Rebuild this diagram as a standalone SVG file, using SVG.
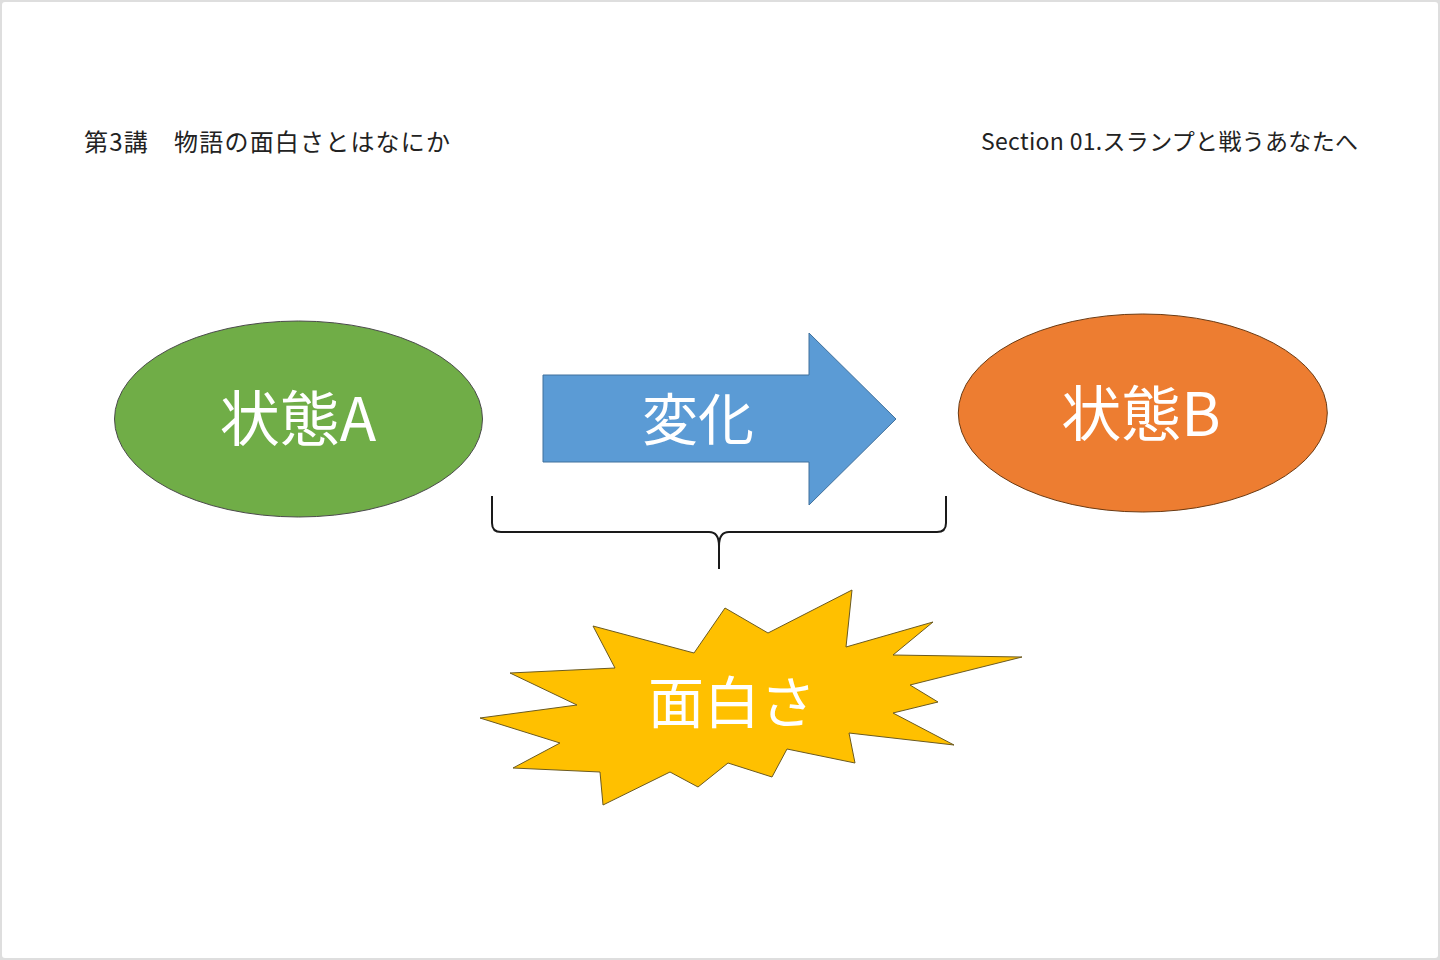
<svg xmlns="http://www.w3.org/2000/svg" width="1440" height="960" viewBox="0 0 1440 960">
  <style>
    .hdr { font-family: "Noto Sans CJK JP", "Noto Sans", sans-serif; font-size: 23px; fill: #222222; }
    .lbl { font-family: "Noto Sans CJK JP", "Noto Sans", sans-serif; font-size: 56px; fill: #ffffff; text-anchor: middle; }
    .big { font-size: 60px; }
    .shape { stroke-width: 1; }
  </style>
  <rect x="0" y="0" width="1440" height="960" fill="#dedede"/>
  <rect x="2" y="2" width="1436" height="956" rx="3" fill="#ffffff"/>

  <g id="header-left">
    <text class="hdr" x="84" y="151" style="font-size:24px" textLength="366" lengthAdjust="spacing">第3講　物語の面白さとはなにか</text>
  </g>
  <g id="header-right">
    <text class="hdr" x="981" y="150" textLength="377" lengthAdjust="spacing">Section 01.スランプと戦うあなたへ</text>
  </g>

  <g id="stateA">
    <ellipse class="shape" cx="298.5" cy="419" rx="184" ry="98" fill="#70ad47" stroke="#4a4a4a"/>
    <text class="lbl big" x="298" y="441">状態A</text>
  </g>

  <g id="change">
    <polygon class="shape" points="543,375 809,375 809,333 896,419 809,505 809,462 543,462" fill="#5b9bd5" stroke="#41719c"/>
    <text class="lbl" x="698" y="440">変化</text>
  </g>

  <g id="stateB">
    <ellipse class="shape" cx="1142.8" cy="413" rx="184.5" ry="99" fill="#ed7d31" stroke="#6b3a12"/>
    <text class="lbl big" x="1141" y="436">状態B</text>
  </g>

  <g id="connectors">
    <path d="M492,496 V523 Q492,532 501,532 H709 Q719,532 719,546 V569 M719,546 Q719,532 729,532 H937 Q946,532 946,523 V496" fill="none" stroke="#1a1a1a" stroke-width="2"/>
  </g>

  <g id="fun">
    <polygon class="shape" points="593,626 694,653 725,608 768,633 852,590 846,647 933,622 893,655 1022,657 910,685 938,702 893,713 954,745 849,733 855,763 787,749 772,777 728,763 698,787 670,772 603,805 600,772 513,768 560,743 480,718 577,705 510,673 615,668" fill="#ffc000" stroke="#6b5a20"/>
    <text class="lbl" x="732" y="723">面白さ</text>
  </g>
</svg>
